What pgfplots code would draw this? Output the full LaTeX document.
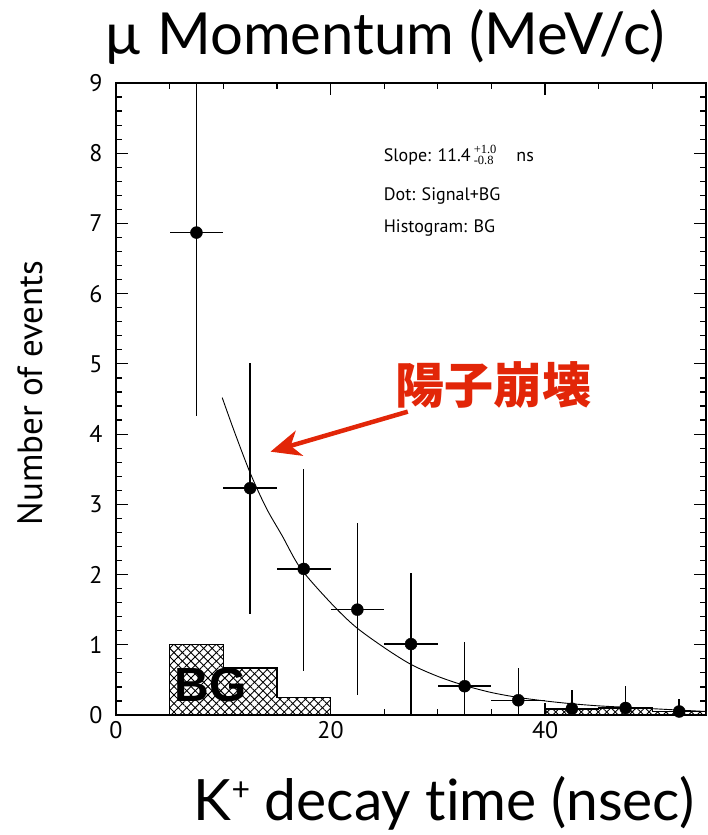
\documentclass[border=0pt]{standalone}
\usepackage{fontspec}
\usepackage{pgfplots}
\usepackage{pgfplotstable}
\pgfplotsset{compat=1.18}
\usetikzlibrary{patterns.meta,arrows.meta}
\setmainfont{PT Sans}
\newfontfamily\gill{Lato}[Ligatures={NoCommon}]
\newfontfamily\cjk{Noto Sans CJK JP}
\newfontfamily\helv{Liberation Sans}
\newfontfamily\tms{Liberation Serif}
\definecolor{arrowred}{RGB}{226,38,8}

\pgfplotstableread{
x y ep em
7.5 6.87 3.70 2.61
12.5 3.23 1.78 1.79
17.5 2.08 1.42 1.45
22.5 1.50 1.23 1.22
27.5 1.01 1.01 1.01
32.5 0.41 0.63 0.41
37.5 0.21 0.46 0.21
42.5 0.09 0.27 0.09
47.5 0.10 0.32 0.10
52.5 0.05 0.18 0.05
}\sigdata

\begin{document}
\begin{tikzpicture}[x=1pt,y=1pt]
\path[use as bounding box] (-116,-120) rectangle (591,715);
\begin{axis}[at={(0,0)}, anchor=south west, scale only axis,
  width=590pt, height=632pt,
  xmin=0, xmax=55, ymin=0, ymax=9,
  xtick={0,20,40}, minor xtick={5,10,15,25,30,35,45,50},
  ytick={0,1,...,9}, minor y tick num=4,
  tick align=inside, major tick length=12pt, minor tick length=6pt,
  tick style={line width=1.2pt, black},
  axis line style={line width=1.6pt},
  ticklabel style={font=\fontsize{24}{24}\selectfont},
  /pgf/number format/assume math mode=true,
  yticklabel style={xshift=-10pt},
  xticklabel style={yshift=-3pt},
  clip=true]
% BG histogram
\addplot[const plot, draw=black, line width=1.2pt, fill=white,
  postaction={pattern={Lines[angle=45,distance=6pt,line width=0.9pt]}},
  postaction={pattern={Lines[angle=-45,distance=6pt,line width=0.9pt]}}]
  coordinates {(5,1.0) (10,0.67) (15,0.25) (20,0) (40,0.08) (45,0.10) (50,0.05) (55,0.05)} \closedcycle;
% fit curve
\addplot[black, line width=0.9pt, smooth] coordinates {
 (9.9,4.52) (11,4.05) (12.5,3.45) (14,2.95) (15.5,2.55) (17.2,2.09) (20,1.60)
 (22.3,1.26) (25,0.96) (27.5,0.72) (30,0.55) (32.5,0.42) (35,0.32) (37.5,0.25)
 (40,0.20) (42.5,0.16) (45,0.13) (47.5,0.11) (50,0.09) (52.5,0.07) (55,0.05)};
% signal+BG points
\addplot[only marks, mark=*, mark size=6pt, black,
  error bars/.cd, x dir=both, x fixed=2.5, y dir=both, y explicit,
  error bar style={line width=1.5pt, black}, error mark=none]
  table[x=x, y=y, y error plus=ep, y error minus=em] {\sigdata};
\node[font=\helv\bfseries\fontsize{48}{48}\selectfont] at (axis cs:8.8,0.43) {BG};
\node[font=\cjk\bfseries\fontsize{49}{49}\selectfont, text=arrowred] at (axis cs:35.2,4.70) {陽子崩壊};
\draw[arrowred, line width=4.5pt, -{Stealth[length=30pt,width=26pt,inset=9pt]}]
  (axis cs:27.2,4.32) -- (axis cs:14.4,3.75);
\node[anchor=base west, font=\fontsize{18}{18}\selectfont, inner sep=0pt] at (axis cs:24.95,7.88)
  {Slope: 11.4\,\raisebox{-3pt}{\tms\fontsize{12.5}{16}\selectfont\shortstack[l]{+1.0\\-0.8}}\hspace{20pt}ns};
\node[anchor=base west, font=\fontsize{18}{18}\selectfont, inner sep=0pt] at (axis cs:24.95,7.32) {Dot: Signal+BG};
\node[anchor=base west, font=\fontsize{18}{18}\selectfont, inner sep=0pt] at (axis cs:24.95,6.87) {Histogram: BG};
\end{axis}
\node[anchor=base, font=\gill\fontsize{58}{58}\selectfont] at (269,660) {µ Momentum (MeV/c)};
\node[anchor=base, font=\gill\fontsize{57}{57}\selectfont] at (328,-105) {K\raisebox{20pt}{\fontsize{32}{32}\selectfont +} decay time (nsec)};
\node[rotate=90, font=\fontsize{35}{35}\selectfont] at (-86,322) {Number of events};
\end{tikzpicture}
\end{document}
